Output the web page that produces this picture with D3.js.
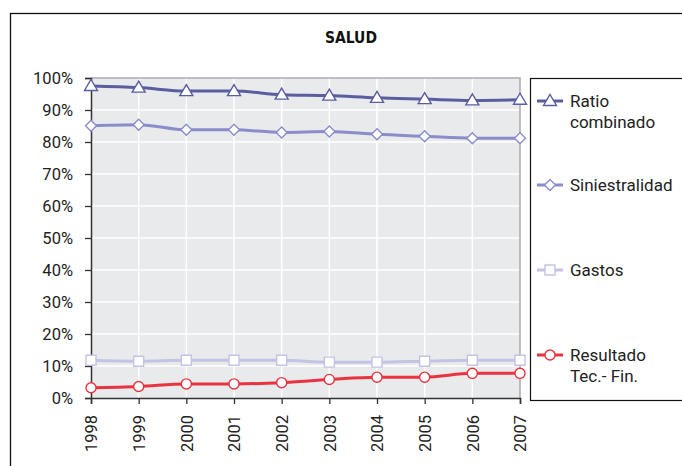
<!DOCTYPE html>
<html><head><meta charset="utf-8">
<script src="https://cdn.jsdelivr.net/npm/d3@7"></script>
<style>
html,body{margin:0;padding:0;background:#fff;}
svg{display:block;font-family:Roboto,"Noto Sans",sans-serif;}
</style></head>
<body>
<svg id="chart" width="682" height="466"></svg>
<script>
const years = [1998,1999,2000,2001,2002,2003,2004,2005,2006,2007];
const ratioCombinado = [97.5,97.0,95.9,95.9,94.8,94.5,93.8,93.4,93.0,93.2];
const siniestralidad = [85.1,85.4,83.8,83.8,83.0,83.3,82.4,81.8,81.2,81.2];
const gastos = [11.8,11.5,11.8,11.8,11.8,11.2,11.2,11.5,11.8,11.8];
const resultado = [3.2,3.6,4.4,4.4,4.8,5.8,6.5,6.5,7.7,7.7];
const yTicks = [0,10,20,30,40,50,60,70,80,90,100];
const seriesNames = [["Ratio","combinado"],["Siniestralidad"],["Gastos"],["Resultado","Tec.- Fin."]];
const title = "SALUD";

const series = [
  {name:seriesNames[0], values:ratioCombinado, color:"#5a5e9f", marker:"triangle"},
  {name:seriesNames[1], values:siniestralidad, color:"#8a8dc9", marker:"diamond"},
  {name:seriesNames[2], values:gastos, color:"#c3c4e3", marker:"square"},
  {name:seriesNames[3], values:resultado, color:"#ea3340", marker:"circle"}
];

const svg = d3.select("#chart");
// outer frame
svg.append("rect").attr("x",10.5).attr("y",13.5).attr("width",700).attr("height",500)
  .attr("fill","none").attr("stroke","#111").attr("stroke-width",1.3);

svg.append("text").attr("x",351).attr("y",43).attr("text-anchor","middle")
  .attr("font-weight","bold").attr("font-size",15.5).attr("fill","#111")
  .style("font-family","'DejaVu Sans Condensed',sans-serif").text(title);

const x0 = 91, x1 = 520, yTop = 78, yBot = 398;
const x = d3.scalePoint().domain(years).range([x0,x1]);
const y = d3.scaleLinear().domain([0,100]).range([yBot,yTop]);

// plot background
svg.append("rect").attr("x",x0).attr("y",yTop).attr("width",x1-x0).attr("height",yBot-yTop).attr("fill","#e9eaec");
// grid
svg.append("g").selectAll("line").data(yTicks.filter(d=>d>0)).join("line")
  .attr("x1",x0).attr("x2",x1).attr("y1",d=>y(d)).attr("y2",d=>y(d))
  .attr("stroke","#fff").attr("stroke-width",1.5);
svg.append("g").selectAll("line").data(years.slice(1,-1)).join("line")
  .attr("x1",d=>x(d)).attr("x2",d=>x(d)).attr("y1",yTop).attr("y2",yBot)
  .attr("stroke","#fff").attr("stroke-width",1.5);
// top & right border
svg.append("path").attr("d",`M${x0},${yTop}H${x1}V${yBot}`).attr("fill","none").attr("stroke","#a9aaae").attr("stroke-width",1.5);

// axes
const yAxis = d3.axisLeft(y).tickValues(yTicks).tickFormat(d=>d+"%").tickSize(6).tickPadding(12);
const gy = svg.append("g").attr("transform",`translate(${x0},0)`).call(yAxis);
gy.select(".domain").attr("stroke","#333").attr("stroke-width",1.5);
gy.selectAll(".tick line").attr("stroke","#333").attr("stroke-width",1.3);
gy.selectAll("text").attr("font-size",16.5).attr("fill","#222").style("font-family","Roboto,sans-serif");

const xAxis = d3.axisBottom(x).tickSize(6);
const gx = svg.append("g").attr("transform",`translate(0,${yBot})`).call(xAxis);
gx.select(".domain").attr("stroke","#333").attr("stroke-width",1.5);
gx.selectAll(".tick line").attr("stroke","#333").attr("stroke-width",1.3);
gx.selectAll("text").attr("font-size",16.5).attr("fill","#222").style("font-family","Roboto,sans-serif")
  .attr("transform","rotate(-90)").attr("text-anchor","end").attr("x",-17).attr("y",0).attr("dy","0.35em");

function drawMarker(g, type, color, cx, cy){
  const s = g.append("path").attr("fill","#fff").attr("stroke",color).attr("stroke-width",1.4);
  if(type==="triangle") s.attr("d",`M${cx},${cy-6.5}L${cx+6.5},${cy+4.5}L${cx-6.5},${cy+4.5}Z`);
  else if(type==="diamond") s.attr("d",`M${cx},${cy-5.5}L${cx+5.5},${cy}L${cx},${cy+5.5}L${cx-5.5},${cy}Z`);
  else if(type==="square") s.attr("d",`M${cx-5},${cy-5}h10v10h-10Z`);
  else s.attr("d",d3.symbol(d3.symbolCircle,80)()).attr("transform",`translate(${cx},${cy})`);
}

const line = d3.line().x((d,i)=>x(years[i])).y(d=>y(d)).curve(d3.curveMonotoneX);
const order = [2,3,1,0];
order.forEach(k=>{
  const s = series[k];
  svg.append("path").attr("d",line(s.values)).attr("fill","none").attr("stroke",s.color).attr("stroke-width",3);
});
order.forEach(k=>{
  const s = series[k];
  const g = svg.append("g");
  s.values.forEach((v,i)=>drawMarker(g,s.marker,s.color,x(years[i]),y(v)));
});

// legend
svg.append("rect").attr("x",530.5).attr("y",78.5).attr("width",200).attr("height",322)
  .attr("fill","#fff").attr("stroke","#111").attr("stroke-width",1.2);
const legY = [101,185,270,355];
series.forEach((s,i)=>{
  const g = svg.append("g");
  g.append("line").attr("x1",537).attr("x2",563).attr("y1",legY[i]).attr("y2",legY[i]).attr("stroke",s.color).attr("stroke-width",3);
  drawMarker(g,s.marker,s.color,550,legY[i]);
  const t = g.append("text").attr("x",570).attr("y",legY[i]).attr("dy","0.35em")
    .attr("font-size",17).attr("fill","#222");
  s.name.forEach((n,j)=>t.append("tspan").attr("x",570).attr("dy",j===0?"0.35em":"1.25em").text(n));
});
</script>
</body></html>
